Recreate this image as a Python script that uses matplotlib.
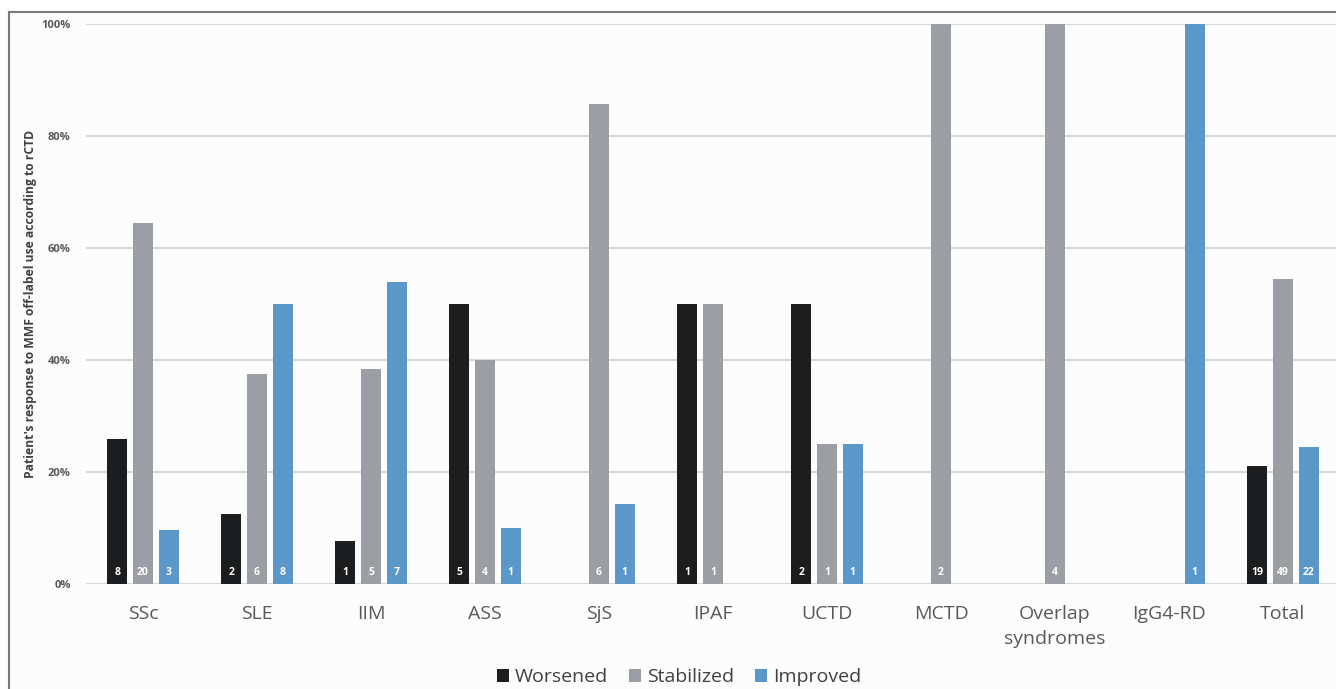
import numpy as np
import matplotlib
matplotlib.use("Agg")
import matplotlib.pyplot as plt
from matplotlib.lines import Line2D
from matplotlib.patches import Patch, Rectangle

plt.rcParams['font.family'] = ['Open Sans', 'DejaVu Sans']

categories = ["SSc", "SLE", "IIM", "ASS", "SjS", "IPAF", "UCTD", "MCTD",
              "Overlap\nsyndromes", "IgG4-RD", "Total"]
worsened = [8, 2, 1, 5, 0, 1, 2, 0, 0, 0, 19]
stabilized = [20, 6, 5, 4, 6, 1, 1, 2, 4, 0, 49]
improved = [3, 8, 7, 1, 1, 0, 1, 0, 0, 1, 22]
series_names = ["Worsened", "Stabilized", "Improved"]
colors = ["#1b1d1f", "#9b9ea2", "#5b97c9"]
yticks = [0, 20, 40, 60, 80, 100]

counts = np.array([worsened, stabilized, improved], dtype=float)
totals = counts.sum(axis=0)
percents = counts / totals * 100

W, H = 1336, 689
fig = plt.figure(figsize=(W / 100, H / 100), dpi=100)
fig.patch.set_facecolor("white")

# light panel inside the frame
fig.add_artist(Rectangle((9 / W, 0), 1 - 9 / W, 677 / H, transform=fig.transFigure,
                         facecolor="#fcfcfc", edgecolor="none", zorder=0))

ax = fig.add_axes([86 / W, 105 / H, 1254 / W, 560 / H])
ax.set_facecolor("none")

x = np.arange(len(categories))
width = 0.175
step = 0.224
for i, (name, col) in enumerate(zip(series_names, colors)):
    pos = x + (i - 1) * step
    ax.bar(pos, percents[i], width=width, color=col, label=name, zorder=3)
    for xp, c in zip(pos, counts[i]):
        if c > 0:
            ax.text(xp, 2.0, f"{int(c)}", ha="center", va="center",
                    color="white", fontsize=7.5, fontweight="bold", zorder=4)

ax.set_xlim(-0.5, len(categories) - 0.5)
ax.set_ylim(0, 100)
ax.set_yticks(yticks)
ax.set_yticklabels([f"{t}%" for t in yticks], fontsize=8, fontweight="bold",
                   color="#595959")
ax.set_xticks(x)
ax.set_xticklabels(categories, fontsize=14, color="#595959", linespacing=1.5)
ax.tick_params(axis="both", length=0)
ax.tick_params(axis="y", pad=11)
ax.tick_params(axis="x", pad=15)
ax.grid(axis="y", color="#d9d9d9", linewidth=1.5, zorder=0)
for s in ax.spines.values():
    s.set_visible(False)

ax.set_ylabel("Patient's response to MMF off-label use according to rCTD",
              fontsize=8.7, fontweight="bold", color="#404040", labelpad=3)

handles = [Patch(facecolor=c, edgecolor="none") for c in colors]
fig.legend(handles, series_names, loc="center", bbox_to_anchor=(679 / W, 12 / H),
           ncol=3, frameon=False, fontsize=14, handlelength=0.65, handleheight=0.65,
           handletextpad=0.3, columnspacing=1.05, labelcolor="#404040")

# outer frame (top and left edges)
fig.add_artist(Line2D([9 / W, 1.0], [677 / H, 677 / H], color="#7a7a7a",
                      linewidth=1.5, transform=fig.transFigure))
fig.add_artist(Line2D([9 / W, 9 / W], [0, 677 / H], color="#7a7a7a",
                      linewidth=1.5, transform=fig.transFigure))

fig.savefig("out.png", dpi=100, facecolor=fig.get_facecolor())
